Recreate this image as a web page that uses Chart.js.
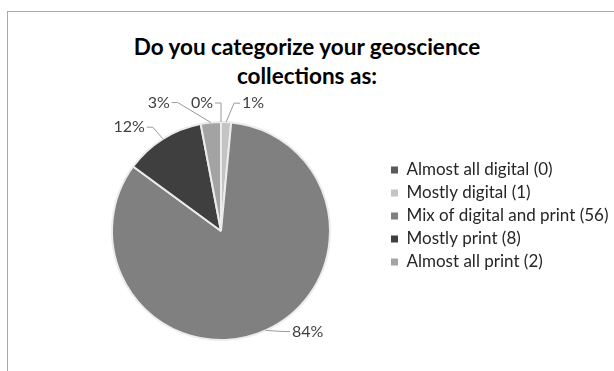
<!DOCTYPE html>
<html>
<head>
<meta charset="utf-8">
<script src="https://cdn.jsdelivr.net/npm/chart.js@4"></script>
<style>
  html, body { margin: 0; padding: 0; background: #fff; overflow: hidden; }
  #wrap { position: relative; width: 614px; height: 371px; }
  #frame { position: absolute; left: 7px; top: 11px; width: 700px; height: 500px; border: 1px solid #a8a8a8; }
  #title { position: absolute; left: 0; top: 32px; width: 614px; text-align: center;
           font: bold 22.5px Lato, sans-serif; line-height: 29px; color: #000; }
  #chart { position: absolute; left: 0; top: 0; }
</style>
</head>
<body>
<div id="wrap">
  <div id="frame"></div>
  <div id="title">Do you categorize your geoscience<br>collections as:</div>
  <canvas id="chart" width="614" height="371"></canvas>
</div>
<script>
const categories = ['Almost all digital', 'Mostly digital', 'Mix of digital and print', 'Mostly print', 'Almost all print'];
const counts = [0, 1, 56, 8, 2];
const sliceColors = ['#5a5a5a', '#c4c4c4', '#808080', '#3f3f3f', '#a3a3a3'];
// nudges for the outside percent labels, like Excel's best fit
const labelNudge = [[-19, 3], [26, 3], [33, -19], [-22, 7], [-50, 2]];

const total = counts.reduce((a, b) => a + b, 0);
const legendLabels = categories.map((c, i) => `${c} (${counts[i]})`);

const legendFont = 17;
const legendPad = 6;
const legendX = 391;   // where the legend boxes start
const pieCenterX = 221;

// measure the widest legend entry so the legend lands where it should
const measure = document.createElement('canvas').getContext('2d');
measure.font = legendFont + 'px Lato, sans-serif';
const widest = Math.max(...legendLabels.map(t => measure.measureText(t).width));
const padLeft = 2 * pieCenterX - (legendX - legendPad);
const padRight = 614 - (legendX - legendPad) - (legendPad + 7 + legendFont / 2 + widest + 10);

// percent labels with leader lines
const outsideLabels = {
  id: 'outsideLabels',
  afterDatasetsDraw(chart) {
    const ctx = chart.ctx;
    const meta = chart.getDatasetMeta(0);
    ctx.save();
    ctx.font = '16px Lato, sans-serif';
    ctx.textBaseline = 'middle';
    ctx.textAlign = 'center';
    meta.data.forEach((arc, i) => {
      const { x, y, startAngle, endAngle, outerRadius } = arc.getProps(['x', 'y', 'startAngle', 'endAngle', 'outerRadius'], true);
      const mid = (startAngle + endAngle) / 2;
      const ex = x + outerRadius * Math.cos(mid);
      const ey = y + outerRadius * Math.sin(mid);
      const lx = x + (outerRadius + 22) * Math.cos(mid) + labelNudge[i][0];
      const ly = y + (outerRadius + 22) * Math.sin(mid) + labelNudge[i][1];
      const text = Math.round(counts[i] / total * 100) + '%';
      const half = ctx.measureText(text).width / 2 + 2;
      const side = ex > lx ? 1 : -1;
      ctx.strokeStyle = '#9a9a9a';
      ctx.lineWidth = 1;
      ctx.beginPath();
      ctx.moveTo(lx + side * half, ly);
      ctx.lineTo(lx + side * (half + 6), ly);
      ctx.lineTo(ex, ey);
      ctx.stroke();
      ctx.fillStyle = '#404040';
      ctx.fillText(text, lx, ly);
    });
    ctx.restore();
  }
};

const defaultLabels = Chart.overrides.pie.plugins.legend.labels.generateLabels;

new Chart(document.getElementById('chart'), {
  type: 'pie',
  data: {
    labels: legendLabels,
    datasets: [{
      data: counts,
      backgroundColor: sliceColors,
      borderColor: '#ececec',
      borderWidth: 2,
      radius: 109,
      clip: false
    }]
  },
  options: {
    responsive: false,
    animation: false,
    layout: { padding: { left: padLeft, right: padRight, top: 155.5, bottom: 64.5 } },
    plugins: {
      title: { display: false },
      tooltip: { enabled: false },
      legend: {
        position: 'right',
        align: 'start',
        labels: {
          boxWidth: 7,
          boxHeight: 7,
          padding: legendPad,
          color: '#262626',
          font: { family: 'Lato, sans-serif', size: legendFont },
          generateLabels(chart) {
            return defaultLabels(chart).map(l => Object.assign(l, { lineWidth: 0 }));
          }
        }
      }
    }
  },
  plugins: [outsideLabels]
});
</script>
</body>
</html>
